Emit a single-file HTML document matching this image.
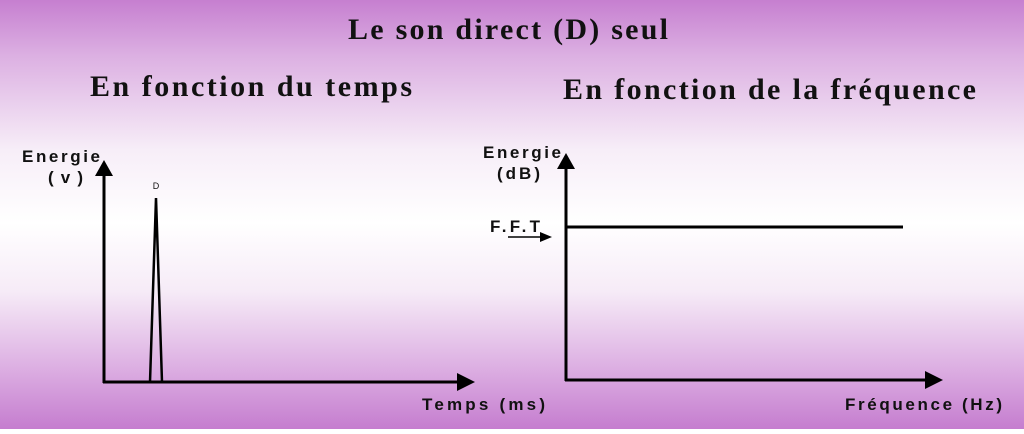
<!DOCTYPE html>
<html><head><style>html,body{margin:0;padding:0}</style></head><body>
<svg width="1024" height="429" xmlns="http://www.w3.org/2000/svg">
<defs><linearGradient id="g" x1="0" y1="0" x2="0" y2="1">
<stop offset="0" stop-color="#c67fd0"/>
<stop offset="0.13" stop-color="#dcb0e2"/>
<stop offset="0.35" stop-color="#f7eef8"/>
<stop offset="0.52" stop-color="#ffffff"/>
<stop offset="0.68" stop-color="#f6ebf7"/>
<stop offset="0.86" stop-color="#dcaee2"/>
<stop offset="1" stop-color="#c57dcf"/>
</linearGradient></defs>
<rect width="1024" height="429" fill="url(#g)"/>
<g font-family="Liberation Serif, serif" font-weight="bold" fill="#111" font-size="30">
<text x="348" y="39" textLength="320" lengthAdjust="spacing">Le son direct (D) seul</text>
<text x="90" y="96" textLength="322" lengthAdjust="spacing">En fonction du temps</text>
<text x="563" y="99" textLength="413" lengthAdjust="spacing">En fonction de la fréquence</text>
</g>
<g font-family="Liberation Sans, sans-serif" font-weight="bold" fill="#111" font-size="17">
<text x="22" y="162" textLength="78" lengthAdjust="spacing">Energie</text>
<text x="48" y="183" textLength="35" lengthAdjust="spacing">(v)</text>
<text x="483" y="158" textLength="78" lengthAdjust="spacing">Energie</text>
<text x="497" y="179" textLength="43" lengthAdjust="spacing">(dB)</text>
<text x="490" y="232" textLength="50" lengthAdjust="spacing">F.F.T</text>
<text x="422" y="410" textLength="123" lengthAdjust="spacing">Temps  (ms)</text>
<text x="845" y="410" textLength="157" lengthAdjust="spacing">Fréquence  (Hz)</text>
<text x="156" y="189" font-size="9" font-weight="normal" text-anchor="middle">D</text>
</g>
<g stroke="#000" stroke-width="3" fill="none">
<line x1="104" y1="172" x2="104" y2="383"/>
<line x1="103" y1="382" x2="460" y2="382"/>
<polyline points="150,382 156,198 162,382" stroke-width="2.5"/>
<line x1="566" y1="165" x2="566" y2="381"/>
<line x1="565" y1="380" x2="930" y2="380"/>
<line x1="566" y1="227" x2="903" y2="227"/>
<line x1="508" y1="237" x2="542" y2="237" stroke-width="1.5"/>
</g>
<g fill="#000">
<polygon points="104,160 95,176 113,176"/>
<polygon points="475,382 457,373 457,391"/>
<polygon points="566,153 557,169 575,169"/>
<polygon points="943,380 925,371 925,389"/>
<polygon points="552,237 540,232 540,242"/>
</g>
</svg>
</body></html>
